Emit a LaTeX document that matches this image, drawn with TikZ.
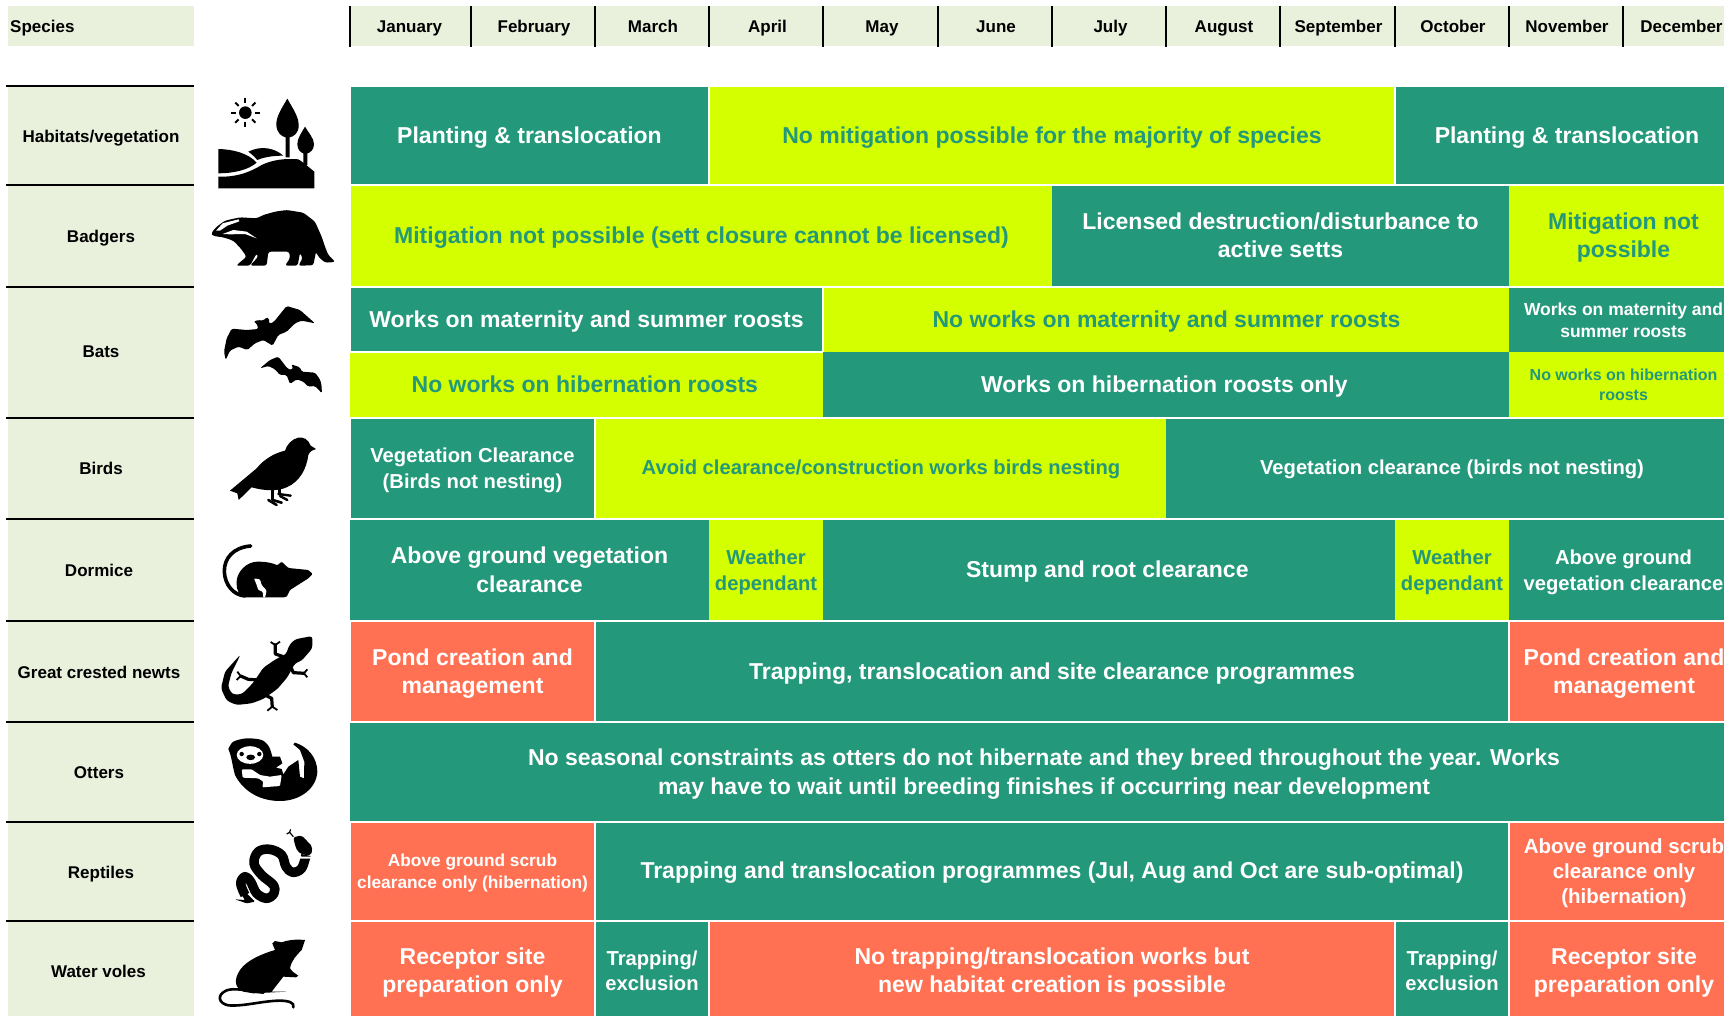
\documentclass[tikz,border=0pt]{standalone}
\usepackage{fontspec}
\setmainfont{Liberation Sans}
\definecolor{cteal}{RGB}{35,152,122}
\definecolor{clime}{RGB}{212,255,0}
\definecolor{cred}{RGB}{255,113,82}
\definecolor{chead}{RGB}{233,240,220}
\tikzset{
  tealcell/.style={fill=cteal,text=white,inner sep=0pt,outer sep=0pt,align=center},
  limecell/.style={fill=clime,text=cteal,inner sep=0pt,outer sep=0pt,align=center},
  redcell/.style={fill=cred,text=white,inner sep=0pt,outer sep=0pt,align=center},
  sidelabel/.style={font={\fontsize{17}{20}\selectfont\bfseries},text=black,inner sep=0pt,text height=12.5pt,text depth=3.5pt},
  monthlabel/.style={font={\fontsize{17}{20}\selectfont\bfseries},text=black,inner sep=0pt,text height=12.5pt,text depth=3.5pt},
  rule/.style={line width=2pt,black},
  icon/.style={fill=black,draw=none},
}
\newcommand{\cellnode}[9]{%
  \pgfmathsetmacro{\cellw}{#5-#3}\pgfmathsetmacro{\cellh}{#6-#4}%
  \node[#2,anchor=north west,minimum width=\cellw pt,minimum height=\cellh pt,
        font={\fontsize{#7}{#8}\selectfont\bfseries}] (#1) at (#3,#4)
        {\rule{0pt}{\dimexpr.7\baselineskip+4pt\relax}#9\strut};}
\begin{document}
\begin{tikzpicture}[x=1pt,y=-1pt]
\useasboundingbox (0,0) rectangle (1724,1016);
\clip (0,0) rectangle (1724,1016);
\fill[white] (0,0) rectangle (1724,1016);
% header
\fill[chead] (8,6) rectangle (194,46);
\fill[chead] (350,6) rectangle (1738,46);
\fill[chead] (8,86) rectangle (194,1016);
\node[monthlabel,anchor=west] (species) at (10,28) {Species};
\foreach \nm/\xa/\xb/\off/\lab in {jan/350/471/-1/January,feb/471/595/1/February,mar/595/709/1/March,apr/709/823/1.5/April,may/823/938/1.5/May,jun/938/1052/1/June,jul/1052/1166/1.5/July,aug/1166/1280/1/August,sep/1280/1395/1/September,oct/1395/1509/1/October,nov/1509/1623/1/November,dec/1623/1738/1/December}{
  \pgfmathsetmacro{\xm}{(\xa+\xb)/2+\off}
  \node[monthlabel] (\nm) at (\xm,28) {\lab};
  \draw[rule] (\xa,6) -- (\xa,47);
}
\foreach \yy in {86,185,286.7,417.7,518.7,621,721.7,821.7,921}{
  \draw[rule] (6,\yy) -- (194,\yy);
}
% side labels
\node[sidelabel] (lhab) at (101,138) {Habitats/vegetation};
\node[sidelabel] (lbad) at (101,238) {Badgers};
\node[sidelabel] (lbat) at (101,353) {Bats};
\node[sidelabel] (lbir) at (101,470) {Birds};
\node[sidelabel] (ldor) at (99,572) {Dormice};
\node[sidelabel] (lgcn) at (99,674) {Great crested newts};
\node[sidelabel] (lott) at (99,774) {Otters};
\node[sidelabel] (lrep) at (101,874) {Reptiles};
\node[sidelabel] (lvol) at (98.5,973) {Water voles};
% cells
\cellnode{c1a}{tealcell}{351}{87}{708}{184}{23}{28}{Planting \& translocation}
\cellnode{c1b}{limecell}{710}{87}{1394}{184}{23}{28}{No mitigation possible for the majority of species}
\cellnode{c1c}{tealcell}{1396}{87}{1738}{184}{23}{28}{Planting \& translocation}
\cellnode{c2a}{limecell}{351}{186}{1052}{286}{23}{28}{Mitigation not possible (sett closure cannot be licensed)}
\cellnode{c2b}{tealcell}{1052}{186}{1509}{286}{23}{28}{Licensed destruction/disturbance to\\active setts}
\cellnode{c2c}{limecell}{1509}{186}{1738}{286}{23}{28}{Mitigation not\\possible}
\cellnode{c3a}{tealcell}{351}{288}{822}{351}{23}{28}{Works on maternity and summer roosts}
\cellnode{c3b}{limecell}{824}{288}{1509}{352}{23}{28}{No works on maternity and summer roosts}
\cellnode{c3c}{tealcell}{1509}{288}{1738}{352}{17.5}{22}{Works on maternity and\\summer roosts}
\cellnode{c4a}{limecell}{350}{353}{823}{417}{23}{28}{No works on hibernation roosts\kern3.3pt}
\cellnode{c4b}{tealcell}{823}{352}{1509}{417}{23}{28}{Works on hibernation roosts only\kern3.3pt}
\cellnode{c4c}{limecell}{1509}{352}{1738}{417}{16}{20}{No works on hibernation\\roosts}
\cellnode{c5a}{tealcell}{351}{419}{594}{518}{20.2}{26}{Vegetation Clearance\\(Birds not nesting)}
\cellnode{c5b}{limecell}{596}{419}{1166}{518}{20.2}{26}{\raisebox{1pt}{Avoid clearance/construction works birds nesting}}
\cellnode{c5c}{tealcell}{1166}{419}{1738}{518}{20.2}{26}{\raisebox{1pt}{Vegetation clearance (birds not nesting)}}
\cellnode{c6a}{tealcell}{350}{520}{709}{620}{23}{29}{Above ground vegetation\\clearance}
\cellnode{c6b}{limecell}{709}{520}{823}{620}{20.2}{26.5}{Weather\\dependant}
\cellnode{c6c}{tealcell}{823}{520}{1395}{620}{23}{28}{Stump and root clearance\kern3.3pt}
\cellnode{c6d}{limecell}{1395}{520}{1509}{620}{20.2}{26.5}{Weather\\dependant}
\cellnode{c6e}{tealcell}{1509}{520}{1738}{620}{20.2}{26}{Above ground\\vegetation clearance}
\cellnode{c7a}{redcell}{351}{622}{594}{721}{23}{28}{Pond creation and\\management}
\cellnode{c7b}{tealcell}{596}{622}{1508}{721}{23}{28}{Trapping, translocation and site clearance programmes}
\cellnode{c7c}{redcell}{1510}{622}{1738}{721}{23}{28}{Pond creation and\\management}
\cellnode{c8a}{tealcell}{350}{723}{1738}{821}{23}{29}{No seasonal constraints as otters do not hibernate and they breed throughout the year. Works\\may have to wait until breeding finishes if occurring near development}
\cellnode{c9a}{redcell}{351}{823}{594}{920}{17.3}{22}{Above ground scrub\\clearance only (hibernation)}
\cellnode{c9b}{tealcell}{596}{823}{1508}{920}{23}{28}{\raisebox{1pt}{Trapping and translocation programmes (Jul, Aug and Oct are sub-optimal)}}
\cellnode{c9c}{redcell}{1510}{823}{1738}{920}{20.5}{25}{Above ground scrub\\clearance only\\(hibernation)}
\cellnode{c10a}{redcell}{351}{922}{594}{1020}{23}{28}{Receptor site\\preparation only}
\cellnode{c10b}{tealcell}{596}{922}{708}{1020}{20.2}{25}{Trapping/\\exclusion}
\cellnode{c10c}{redcell}{710}{922}{1394}{1020}{23}{28}{No trapping/translocation works but\\new habitat creation is possible}
\cellnode{c10d}{tealcell}{1396}{922}{1508}{1020}{20.2}{25}{Trapping/\\exclusion}
\cellnode{c10e}{redcell}{1510}{922}{1738}{1020}{23}{28}{Receptor site\\preparation only}
% ---- icons, traced in zoom coordinates (3 units per px)
\begin{scope}[x=0.33333pt,y=-0.33333pt]
% habitats
\fill (736,338) circle [radius=6.3pt];
\foreach \a in {0,45,...,315}{
  \draw[line width=2pt] (736,338) ++(\a:9.5pt) -- ++(\a:4.8pt);
}
\fill[icon] (862,296) .. controls (845,325) and (828,350) .. (829,375) .. controls (830,398) and (845,410) .. (857,412) -- (857,472) -- (869,472) -- (869,412) .. controls (882,410) and (897,398) .. (896,375) .. controls (896,350) and (878,325) .. (862,296) -- cycle;
\fill[icon] (915,380) .. controls (905,398) and (892,415) .. (892,432) .. controls (892,448) and (902,458) .. (910,460) -- (910,495) -- (922,495) -- (922,460) .. controls (932,458) and (942,448) .. (942,432) .. controls (942,415) and (925,398) .. (915,380) -- cycle;
\fill[icon] (655,447) .. controls (700,448) and (745,460) .. (770,488) .. controls (745,510) and (700,520) .. (655,520) -- cycle;
\fill[icon] (745,455) .. controls (785,435) and (825,445) .. (850,467) .. controls (825,467) and (795,470) .. (772,480) .. controls (765,472) and (755,462) .. (745,455) -- cycle;
\fill[icon] (655,530) .. controls (720,532) and (760,510) .. (785,495) .. controls (820,478) and (860,475) .. (895,478) .. controls (915,490) and (930,505) .. (943,515) -- (943,565) -- (655,565) -- cycle;
% badger
\fill[icon,rounded corners=2.5pt] (633,700) -- (650,680) -- (675,662) -- (720,652) -- (770,655) -- (790,645) -- (825,635) -- (860,630) -- (910,638) -- (945,665) -- (965,710) -- (975,740) -- (985,765) -- (1006,786) -- (975,788) -- (955,770) -- (948,755) -- (940,796) -- (895,797) -- (908,775) -- (900,758) -- (893,797) -- (855,797) -- (870,775) -- (868,755) -- (805,755) -- (800,797) -- (750,797) -- (775,770) -- (770,760) -- (750,797) -- (708,797) -- (740,770) -- (722,745) -- (700,722) -- (670,712) -- (640,708) -- cycle;
\fill[white] (648,692) -- (668,670) -- (716,658) -- (718,664) -- (682,677) -- (660,692) -- cycle;
\fill[white] (668,702) -- (700,690) -- (740,695) -- (770,715) -- (735,702) -- (690,703) -- cycle;
\end{scope}
\begin{scope}[shift={(0,280)},x=0.33333pt,y=-0.33333pt]
% bats
\fill[icon,rounded corners=1.5pt] (677,240) -- (672,215) -- (680,175) -- (695,146) -- (740,150) -- (775,147) -- (770,130) -- (760,125) -- (775,120) -- (790,122) -- (800,112) -- (807,115) -- (808,132) -- (822,125) -- (860,78) -- (900,90) -- (945,130) -- (905,122) -- (885,130) -- (860,155) -- (835,165) -- (818,197) -- (790,180) -- (765,190) -- (742,210) -- (715,200) -- (690,212) -- cycle;
\fill[icon,rounded corners=1.5pt] (966,340) -- (964,310) -- (958,295) -- (945,278) -- (905,275) -- (900,262) -- (873,253) -- (880,265) -- (873,270) -- (862,265) -- (835,230) -- (810,240) -- (780,265) -- (805,258) -- (825,268) -- (840,285) -- (860,285) -- (870,312) -- (890,298) -- (910,305) -- (925,320) -- (945,318) -- cycle;
% bird
\fill[icon] (948,507) -- (932,497) .. controls (925,478) and (910,470) .. (895,473) .. controls (875,477) and (860,495) .. (855,512) .. controls (820,520) and (790,540) .. (770,565) -- (690,632) -- (712,640) -- (716,660) -- (755,622) .. controls (790,632) and (830,635) .. (860,622) .. controls (900,605) and (920,565) .. (925,525) .. controls (930,512) and (940,510) .. (948,507) -- cycle;
\draw[line width=2.6pt] (817,625) -- (817,660);
\draw[line width=2.6pt,line cap=round] (805,660) -- (830,675);
\draw[line width=2.6pt,line cap=round] (818,660) -- (845,668);
\draw[line width=2.6pt] (838,625) -- (838,645);
\draw[line width=2.4pt,line cap=round] (835,642) -- (872,647);
\draw[line width=2.4pt,line cap=round] (840,648) -- (862,660);
\end{scope}
\begin{scope}[shift={(0,510)},x=0.33333pt,y=-0.33333pt]
% dormouse
\draw[line width=3.6pt,line cap=round] (752,108) .. controls (700,112) and (672,145) .. (673,185) .. controls (675,225) and (700,255) .. (735,258);
\fill[icon,rounded corners=1pt] (710,215) .. controls (712,185) and (740,155) .. (775,155) .. controls (800,155) and (820,160) .. (832,166) -- (845,155) -- (865,174) -- (925,180) -- (938,192) -- (925,205) -- (870,240) -- (862,256) .. controls (860,262) and (850,262) .. (845,262) -- (740,262) .. controls (720,262) and (708,240) .. (710,215) -- cycle;
\fill[white,rounded corners=1pt] (762,205) -- (780,208) -- (785,225) -- (800,242) -- (795,263) -- (790,263) -- (788,245) -- (775,240) -- (770,225) -- cycle;
% newt
\fill[icon,rounded corners=3pt] (885,388) -- (937,378) -- (937,415) -- (905,452) -- (885,460) -- (862,502) -- (832,537) -- (790,567) -- (755,580) -- (710,585) -- (680,572) -- (663,535) -- (675,485) -- (722,433) -- (694,490) -- (684,530) -- (697,553) -- (725,553) -- (760,518) -- (790,473) -- (830,446) -- (858,433) -- (868,405) -- cycle;
\draw[line width=3.2pt,line join=round] (850,440) -- (826,432) -- (826,400);
\draw[line width=1.8pt] (812,396) -- (826,405) -- (840,395);
\draw[line width=3.2pt,line join=round] (870,465) -- (880,488) -- (915,490);
\draw[line width=1.8pt] (922,478) -- (912,490) -- (922,502);
\draw[line width=3.2pt,line join=round] (775,510) -- (745,508) -- (722,498);
\draw[line width=1.8pt] (712,485) -- (722,498) -- (710,510);
\draw[line width=3.2pt,line join=round] (795,555) -- (815,565) -- (817,592);
\draw[line width=1.8pt] (802,602) -- (817,590) -- (832,600);
\end{scope}
\begin{scope}[shift={(200,725)},x=0.33333pt,y=-0.33333pt]
% otter
\fill[icon] plot[smooth,tension=.5] coordinates {(85,72) (100,50) (140,40) (185,45) (207,65) (217,95)} -- (240,95) -- (247,115) -- (228,128) -- (245,132) -- (250,148) -- (265,125) -- (295,105) -- (300,155) -- (312,160) -- (313,110) -- (300,75) -- (280,58) -- (285,53) .. controls (325,65) and (352,100) .. (352,140) .. controls (350,190) and (300,228) .. (240,228) .. controls (170,228) and (125,190) .. (105,150) .. controls (98,125) and (95,100) .. (90,85) -- cycle;
\fill[white,rounded corners=1pt] (125,133) -- (155,133) -- (180,150) -- (210,155) -- (245,150) -- (240,183) -- (187,187) -- (190,170) -- (175,160) -- (128,158) -- cycle;
\fill[white] (150,90) ellipse [x radius=13.3pt,y radius=8.8pt];
\fill (125,87) circle [radius=2.2pt];
\fill (178,87) circle [radius=2.2pt];
\fill (152,97) ellipse [x radius=4.4pt,y radius=2.8pt];
\end{scope}
\begin{scope}[shift={(0,760)},x=0.33333pt,y=-0.33333pt]
% snake
\draw[line width=9.5pt,line join=round] plot[smooth,tension=.6] coordinates {(918,285) (905,325) (878,337) (858,320) (845,285) (810,268) (775,275) (762,310) (785,345) (820,375) (822,400) (800,415) (770,400) (752,365) (735,350) (722,370) (735,405)};
\fill[icon,rounded corners=1pt] (735,395) -- (765,425) -- (740,430) -- (705,418) -- (735,420) -- (722,400) -- cycle;
\fill[white] (880,270) -- (905,290) -- (935,290) -- (930,296) -- (900,296) -- (875,275) -- cycle;
\fill[icon,rounded corners=2pt] (880,232) -- (905,226) -- (937,260) -- (934,285) -- (912,285) -- (893,275) -- (885,255) -- cycle;
\draw[line width=1.2pt] (880,230) -- (869,217) -- (860,222);
\draw[line width=1.2pt] (869,217) -- (872,208);
% vole
\fill[icon] (915,540) .. controls (895,538) and (870,538) .. (845,547) -- (825,543) -- (817,550) -- (825,570) .. controls (790,580) and (740,600) .. (720,630) .. controls (700,660) and (705,685) .. (730,695) -- (760,700) -- (860,695) -- (815,695) -- (850,650) -- (888,652) -- (895,647) -- (878,635) -- (870,625) .. controls (875,600) and (890,585) .. (905,570) -- cycle;
\draw[line width=2.6pt,line cap=round] (790,698) .. controls (740,692) and (700,682) .. (678,692) .. controls (650,705) and (655,730) .. (685,736) .. controls (730,740) and (790,722) .. (840,722) .. controls (865,722) and (885,728) .. (880,742);
\end{scope}
\end{tikzpicture}
\end{document}
